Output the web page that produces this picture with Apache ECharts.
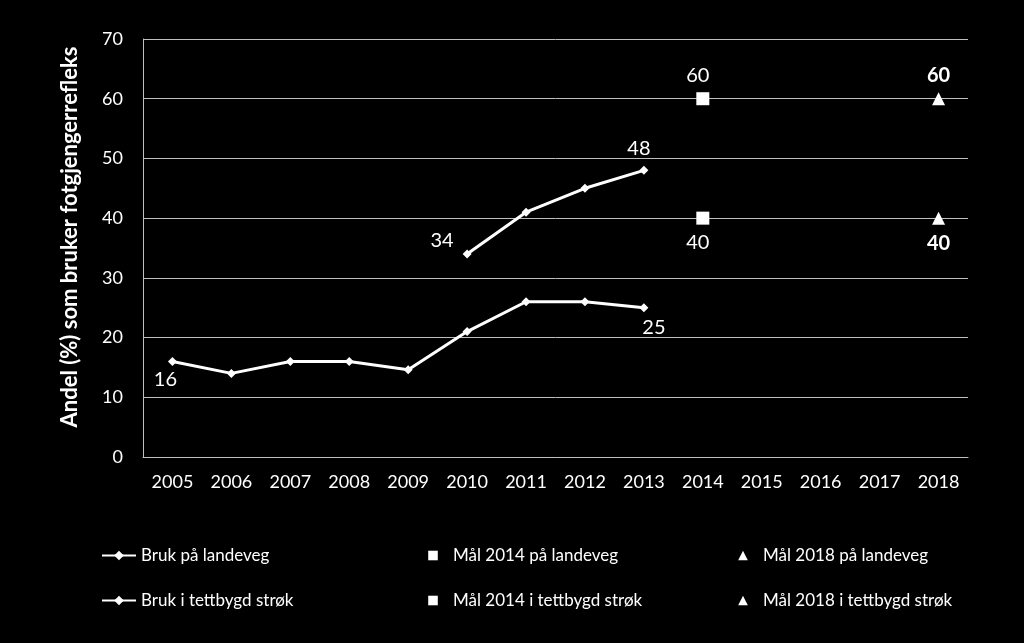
<!DOCTYPE html>
<html><head><meta charset="utf-8">
<style>html,body{margin:0;padding:0;background:#000;}#c{width:1024px;height:643px;}</style>
<script src="https://cdn.jsdelivr.net/npm/echarts@6/dist/echarts.min.js"></script>
</head><body><div id="c"></div>
<script>
const years = ['2005','2006','2007','2008','2009','2010','2011','2012','2013','2014','2015','2016','2017','2018'];
const brukLandeveg = [null,null,null,null,null,34,41,45,48,null,null,null,null,null];
const brukTettbygd = [16,14,16,16,14.6,21,26,26,25,null,null,null,null,null];
const mal2014Landeveg = [null,null,null,null,null,null,null,null,null,60,null,null,null,null];
const mal2014Tettbygd = [null,null,null,null,null,null,null,null,null,40,null,null,null,null];
const mal2018Landeveg = [null,null,null,null,null,null,null,null,null,null,null,null,null,60];
const mal2018Tettbygd = [null,null,null,null,null,null,null,null,null,null,null,null,null,40];
const yTicks = {min:0, max:70, interval:10};

const FONT = 'Lato';
const lbl = (pos, off, bold) => ({show:true, position:pos, offset:off||[0,0], color:'#fff', fontSize:20, fontFamily:FONT, fontWeight: bold?'bold':'normal', formatter: p => Math.round(p.value)});
function withLabels(arr, labelMap){
  return arr.map((v,i)=> v==null ? null : (labelMap[i] ? {value:v, label:labelMap[i]} : v));
}
const chart = echarts.init(document.getElementById('c'), null, {renderer:'canvas'});
const lineLegendText = {color:'#fff', fontSize:17, fontFamily:FONT};
const markLegendText = {color:'#fff', fontSize:17, fontFamily:FONT, padding:[0,0,0,9]};
chart.setOption({
  backgroundColor:'#000',
  animation:false,
  grid:{left:143, right:56, top:39, bottom:186},
  legend:[
    {data:['Bruk på landeveg'], left:96, top:542, itemWidth:34, itemHeight:12, textStyle:lineLegendText},
    {data:['Bruk i tettbygd strøk'], left:96, top:587, itemWidth:34, itemHeight:12, textStyle:lineLegendText},
    {data:['Mål 2014 på landeveg'], left:422, top:542, itemWidth:12, itemHeight:12, textStyle:markLegendText},
    {data:['Mål 2014 i tettbygd strøk'], left:422, top:587, itemWidth:12, itemHeight:12, textStyle:markLegendText},
    {data:['Mål 2018 på landeveg'], left:732, top:542, itemWidth:12, itemHeight:12, textStyle:markLegendText},
    {data:['Mål 2018 i tettbygd strøk'], left:732, top:587, itemWidth:12, itemHeight:12, textStyle:markLegendText}
  ],
  xAxis:{type:'category', data:years, boundaryGap:true,
    axisLine:{show:true, lineStyle:{color:'#bfbfbf', width:1}},
    axisTick:{show:false},
    axisLabel:{color:'#fff', fontSize:18, fontFamily:FONT, margin:16}},
  yAxis:{type:'value', min:yTicks.min, max:yTicks.max, interval:yTicks.interval,
    name:'Andel (%) som bruker fotgjengerrefleks', nameLocation:'middle', nameGap:62, nameRotate:90,
    nameTextStyle:{color:'#fff', fontSize:22, fontWeight:'bold', fontFamily:FONT, padding:[0,0,0,22]},
    axisLine:{show:true, lineStyle:{color:'#bfbfbf', width:1}},
    axisTick:{show:false},
    splitLine:{lineStyle:{color:'#bfbfbf', width:1}},
    axisLabel:{color:'#fff', fontSize:18, fontFamily:FONT, margin:20}},
  series:[
    {name:'Bruk på landeveg', type:'line', data:withLabels(brukLandeveg,{5:lbl('left',[-4,-13]),8:lbl('top',[-5,-2])}),
     symbol:'diamond', symbolSize:9, showSymbol:true, connectNulls:false,
     lineStyle:{color:'#fff', width:3}, itemStyle:{color:'#fff'}},
    {name:'Bruk i tettbygd strøk', type:'line', data:withLabels(brukTettbygd,{0:lbl('bottom',[-7,-1]),8:lbl('bottom',[10,0])}),
     symbol:'diamond', symbolSize:9, showSymbol:true,
     lineStyle:{color:'#fff', width:3}, itemStyle:{color:'#fff'}},
    {name:'Mål 2014 på landeveg', type:'line', data:withLabels(mal2014Landeveg,{9:lbl('top',[-5,-2])}),
     symbol:'rect', symbolSize:13, lineStyle:{width:0}, itemStyle:{color:'#fff'}},
    {name:'Mål 2014 i tettbygd strøk', type:'line', data:withLabels(mal2014Tettbygd,{9:lbl('bottom',[-5,3])}),
     symbol:'rect', symbolSize:13, lineStyle:{width:0}, itemStyle:{color:'#fff'}},
    {name:'Mål 2018 på landeveg', type:'line', data:withLabels(mal2018Landeveg,{13:lbl('top',[0,-2],true)}),
     symbol:'triangle', symbolSize:13, lineStyle:{width:0}, itemStyle:{color:'#fff'}},
    {name:'Mål 2018 i tettbygd strøk', type:'line', data:withLabels(mal2018Tettbygd,{13:lbl('bottom',[0,4],true)}),
     symbol:'triangle', symbolSize:13, lineStyle:{width:0}, itemStyle:{color:'#fff'}}
  ]
});
</script></body></html>
